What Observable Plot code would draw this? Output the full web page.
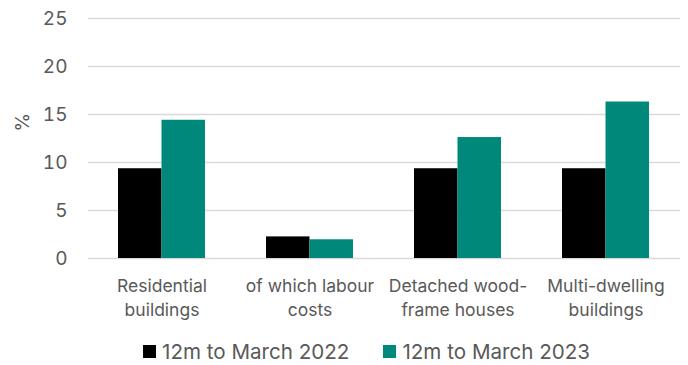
<!DOCTYPE html>
<html>
<head>
<meta charset="utf-8">
<script src="https://cdn.jsdelivr.net/npm/d3@7"></script>
<script src="https://cdn.jsdelivr.net/npm/@observablehq/plot@0.6"></script>
<style>
  html, body { margin: 0; padding: 0; background: #fff; }
  #chart { width: 688px; }
  .legend { display: flex; justify-content: flex-start; align-items: center; font-family: Inter, sans-serif; font-size: 20.6px; color: #595959; margin-left: 143px; margin-top: 4px; height: 30px; }
  .legend span.sw { display: inline-block; width: 13px; height: 13px; margin-right: 6px; }
  .legend .item { display: flex; align-items: center; margin-right: 34px; }
</style>
</head>
<body>
<div id="chart"></div>
<script>
const categories = ["Residential\nbuildings", "of which labour\ncosts", "Detached wood-\nframe houses", "Multi-dwelling\nbuildings"];
const seriesNames = ["12m to March 2022", "12m to March 2023"];
const values2022 = [9.35, 2.25, 9.35, 9.35];
const values2023 = [14.4, 1.95, 12.6, 16.3];
const yTicks = [0, 5, 10, 15, 20, 25];
const colors = ["#000000", "#00897b"];

const rows2022 = categories.map((c, i) => ({category: c, series: seriesNames[0], value: values2022[i]}));
const rows2023 = categories.map((c, i) => ({category: c, series: seriesNames[1], value: values2023[i]}));

// half of the group band width, in pixels: each series takes one half of the band
const halfBand = 43.5;

const chart = Plot.plot({
  width: 688,
  height: 332,
  marginTop: 18,
  marginBottom: 74,
  marginLeft: 88,
  marginRight: 8,
  style: {fontFamily: "Inter, sans-serif", color: "#595959", background: "#fff"},
  x: {domain: categories, paddingInner: 0.412, paddingOuter: 0.206, label: null},
  y: {domain: [0, 25], ticks: yTicks, label: null},
  color: {domain: seriesNames, range: colors},
  marks: [
    Plot.gridY(yTicks, {stroke: "#d9d9d9", strokeOpacity: 1, strokeWidth: 1.6}),
    Plot.axisY({ticks: yTicks, tickSize: 0, tickPadding: 21, fontSize: 19, fill: "#595959", label: null}),
    Plot.text(["%"], {frameAnchor: "left", dx: -66, dy: -7, rotate: -90, fontSize: 19, fill: "#595959"}),
    Plot.barY(rows2022, {x: "category", y: "value", fill: "series", insetRight: halfBand}),
    Plot.barY(rows2023, {x: "category", y: "value", fill: "series", insetLeft: halfBand}),
    Plot.axisX({tickSize: 0, tickPadding: 17, fontSize: 17.5, lineHeight: 1.35, fill: "#595959", label: null})
  ]
});
document.getElementById("chart").appendChild(chart);

const legend = document.createElement("div");
legend.className = "legend";
seriesNames.forEach((s, i) => {
  const it = document.createElement("div");
  it.className = "item";
  const sw = document.createElement("span");
  sw.className = "sw";
  sw.style.background = colors[i];
  it.appendChild(sw);
  it.appendChild(document.createTextNode(s));
  legend.appendChild(it);
});
document.getElementById("chart").appendChild(legend);
</script>
</body>
</html>
